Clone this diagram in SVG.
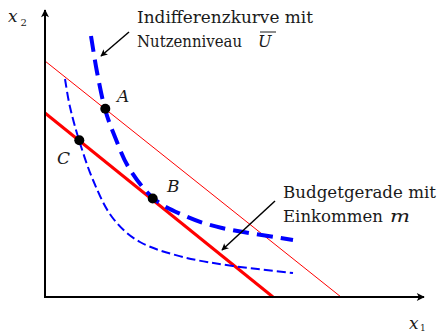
<svg xmlns="http://www.w3.org/2000/svg" width="441" height="333" viewBox="0 0 441 333">
<style>
  text { font-family: 'DejaVu Serif', 'Liberation Serif', serif; fill: #1a1a1a; }
  .it { font-style: italic; }
  .axis { stroke: #000; stroke-width: 2; fill: none; }
  .ann { stroke: #000; stroke-width: 1.5; fill: none; }
  .red { stroke: #ff0000; fill: none; }
  .blue { stroke: #0000ff; fill: none; }
  .pt { fill: #000; }
</style>
<defs>
  <marker id="axarrow" viewBox="0 0 10 10" refX="9" refY="5" markerWidth="9" markerHeight="8" orient="auto" markerUnits="userSpaceOnUse">
    <path d="M0,0 L10,5 L0,10 L2.5,5 z" fill="#000"/>
  </marker>
  <marker id="annarrow" viewBox="0 0 10 10" refX="9" refY="5" markerWidth="9" markerHeight="7" orient="auto" markerUnits="userSpaceOnUse">
    <path d="M0,0 L10,5 L0,10 L2.5,5 z" fill="#000"/>
  </marker>
</defs>
<rect width="441" height="333" fill="#fff"/>

<g id="budget-lines">
  <line class="red" x1="45" y1="61" x2="341" y2="297" stroke-width="1"/>
  <line class="red" x1="45" y1="113" x2="273" y2="297" stroke-width="3"/>
</g>

<g id="indifference-curves">
  <path id="curve-low" class="blue" stroke-width="2" stroke-dasharray="9 4" d="M65,79 C65.83,83.67 67.67,96.83 70,107 C72.33,117.17 75.17,127.83 79,140 C82.83,152.17 87.5,167.17 93,180 C98.5,192.83 104.17,206.67 112,217 C119.83,227.33 128.17,235.33 140,242 C151.83,248.67 167.5,253 183,257 C198.5,261 214.67,263.33 233,266 C251.33,268.67 283,271.83 293,273"/>
  <path id="curve-high" class="blue" stroke-width="4" stroke-dasharray="16 8" d="M91,36 C92,42 94.67,59.83 97,72 C99.33,84.17 102,98.17 105,109 C108,119.83 111,127.17 115,137 C119,146.83 122.67,157.83 129,168 C135.33,178.17 144,190.17 153,198 C162,205.83 171.5,210 183,215 C194.5,220 203.67,223.83 222,228 C240.33,232.17 281.17,238 293,240"/>
</g>

<g id="axes">
  <line class="axis" x1="45" y1="298" x2="45" y2="10" marker-end="url(#axarrow)"/>
  <line class="axis" x1="44" y1="297" x2="424" y2="297" marker-end="url(#axarrow)"/>
  <text class="it" x="8" y="22" font-size="17">x</text>
  <text x="20.5" y="26" font-size="10">2</text>
  <text class="it" x="409" y="329" font-size="17">x</text>
  <text x="420" y="331" font-size="9">1</text>
</g>

<g id="connectors">
  <line class="ann" x1="129" y1="32" x2="101" y2="56" marker-end="url(#annarrow)"/>
  <line class="ann" x1="275" y1="201" x2="222" y2="250" marker-end="url(#annarrow)"/>
</g>

<g id="point-A">
  <circle class="pt" cx="105.3" cy="108.7" r="5"/>
  <text class="it" x="117" y="102" font-size="17">A</text>
</g>
<g id="point-B">
  <circle class="pt" cx="152.7" cy="198.5" r="5"/>
  <text class="it" x="167" y="192" font-size="17">B</text>
</g>
<g id="point-C">
  <circle class="pt" cx="79.3" cy="140.2" r="5"/>
  <text class="it" x="57" y="164" font-size="17">C</text>
</g>

<g id="label-indifference">
  <text x="137" y="23" font-size="17" textLength="176" lengthAdjust="spacingAndGlyphs">Indifferenzkurve mit</text>
  <text x="137" y="47" font-size="16" textLength="105" lengthAdjust="spacingAndGlyphs">Nutzenniveau</text>
  <text class="it" x="258" y="47" font-size="16">U</text>
  <line x1="260" y1="32" x2="276" y2="32" stroke="#1a1a1a" stroke-width="1"/>
</g>

<g id="label-budget">
  <text x="283" y="198" font-size="16.5" textLength="153" lengthAdjust="spacingAndGlyphs">Budgetgerade mit</text>
  <text x="283" y="222" font-size="17" textLength="100" lengthAdjust="spacingAndGlyphs">Einkommen</text>
  <text class="it" x="390" y="222" font-size="17" textLength="20" lengthAdjust="spacingAndGlyphs">m</text>
</g>
</svg>
